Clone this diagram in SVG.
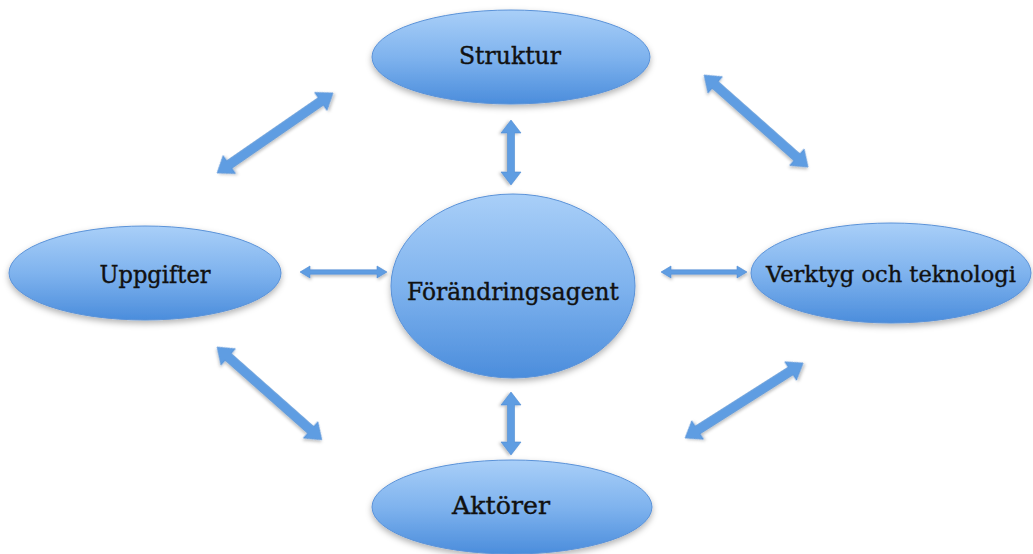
<svg xmlns="http://www.w3.org/2000/svg" width="1033" height="554" viewBox="0 0 1033 554">
<defs>
<linearGradient id="g" x1="0" y1="0" x2="0" y2="1">
<stop offset="0" stop-color="#a9cff8"/>
<stop offset="0.5" stop-color="#7fb3ee"/>
<stop offset="1" stop-color="#4b8ddc"/>
</linearGradient>
<filter id="sh" x="-20%" y="-20%" width="140%" height="150%">
<feDropShadow dx="0" dy="3" stdDeviation="3" flood-color="#000" flood-opacity="0.3"/>
</filter>
<filter id="ash" x="-20%" y="-50%" width="140%" height="200%">
<feDropShadow dx="1" dy="2" stdDeviation="1.5" flood-color="#000" flood-opacity="0.25"/>
</filter>
</defs>
<style>
.node{fill:url(#g);stroke:#5a92d8;stroke-width:1;filter:url(#sh)}
.lbl{font-family:"DejaVu Serif","Liberation Serif",serif;font-size:25px;fill:#111;stroke:#111;stroke-width:0.4;text-anchor:middle}
.sm{font-size:23px}
.arr{fill:#5f9de2;stroke:#4f8bd4;stroke-width:0.6;filter:url(#ash)}
</style>
<rect width="1033" height="554" fill="#fff"/>
<g id="connectors">
<polygon class="arr" transform="translate(217,173) rotate(-34.6)" points="0,0 15,-11 15,-4.5 126,-4.5 126,-11 141,0 126,11 126,4.5 15,4.5 15,11"/>
<polygon class="arr" transform="translate(704,75) rotate(41.5)" points="0,0 15,-11 15,-4.5 124,-4.5 124,-11 139,0 124,11 124,4.5 15,4.5 15,11"/>
<polygon class="arr" transform="translate(217,347) rotate(41.5)" points="0,0 15,-11 15,-4.5 125,-4.5 125,-11 140,0 125,11 125,4.5 15,4.5 15,11"/>
<polygon class="arr" transform="translate(685,438) rotate(-32.4)" points="0,0 15,-11 15,-4.5 125,-4.5 125,-11 140,0 125,11 125,4.5 15,4.5 15,11"/>
<polygon class="arr" transform="translate(511,120) rotate(90)" points="0,0 13,-10 13,-3.5 52,-3.5 52,-10 65,0 52,10 52,3.5 13,3.5 13,10"/>
<polygon class="arr" transform="translate(511,392) rotate(90)" points="0,0 13,-10 13,-3.5 50,-3.5 50,-10 63,0 50,10 50,3.5 13,3.5 13,10"/>
<polygon class="arr" transform="translate(300,272)" points="0,0 10,-6 10,-2.2 77,-2.2 77,-6 87,0 77,6 77,2.2 10,2.2 10,6"/>
<polygon class="arr" transform="translate(661,272)" points="0,0 10,-6 10,-2.2 76,-2.2 76,-6 86,0 76,6 76,2.2 10,2.2 10,6"/>
</g>
<g id="struktur">
<ellipse class="node" cx="511" cy="57" rx="139" ry="47"/>
<text class="lbl" x="510" y="64" textLength="102" lengthAdjust="spacingAndGlyphs">Struktur</text>
</g>
<g id="forandringsagent">
<ellipse class="node" cx="513" cy="286" rx="122" ry="92"/>
<text class="lbl" x="513" y="300" textLength="212" lengthAdjust="spacingAndGlyphs">Förändringsagent</text>
</g>
<g id="uppgifter">
<ellipse class="node" cx="145" cy="273" rx="136" ry="47"/>
<text class="lbl" x="155" y="283" textLength="111" lengthAdjust="spacingAndGlyphs">Uppgifter</text>
</g>
<g id="verktyg">
<ellipse class="node" cx="891" cy="273" rx="140" ry="50"/>
<text class="lbl sm" x="891" y="282" textLength="250" lengthAdjust="spacingAndGlyphs">Verktyg och teknologi</text>
</g>
<g id="aktorer">
<ellipse class="node" cx="512" cy="507" rx="140" ry="47"/>
<text class="lbl" x="501" y="514" textLength="98" lengthAdjust="spacingAndGlyphs">Aktörer</text>
</g>
</svg>
